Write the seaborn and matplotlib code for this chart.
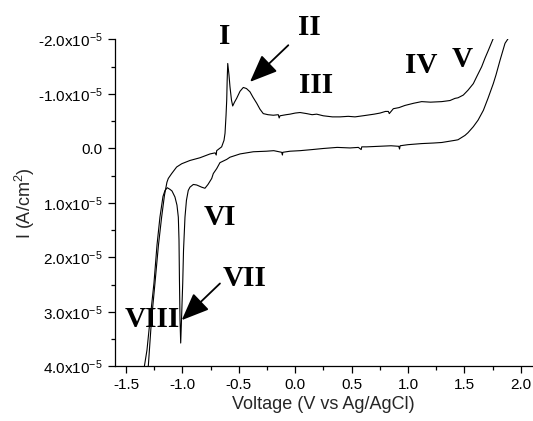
import matplotlib
matplotlib.use("Agg")
import matplotlib.pyplot as plt
import matplotlib.ticker as mticker
import seaborn as sns
import pandas as pd

# ---- data (V vs Ag/AgCl, current in units of 1e-5 A/cm^2) ----
fwd_v = [-1.349, -1.302, -1.274, -1.243, -1.212, -1.184, -1.159, -1.137, -1.125,
         -1.095, -1.051, -1.006, -0.933, -0.844, -0.755, -0.710, -0.700, -0.696,
         -0.652, -0.631, -0.622, -0.613, -0.607, -0.603, -0.598, -0.587, -0.578,
         -0.565, -0.554, -0.538, -0.519, -0.489, -0.460, -0.432, -0.401, -0.374,
         -0.341, -0.312, -0.283, -0.241, -0.194, -0.150, -0.142, -0.135, -0.080,
         -0.046, 0.000, 0.043, 0.102, 0.150, 0.190, 0.249, 0.330, 0.397, 0.470,
         0.530, 0.600, 0.634, 0.700, 0.752, 0.800, 0.826, 0.834, 0.870, 0.920,
         0.973, 1.050, 1.121, 1.200, 1.299, 1.372, 1.417, 1.443, 1.490, 1.532,
         1.579, 1.612, 1.653, 1.683, 1.712, 1.756]
fwd_i = [4.25, 3.99, 3.15, 2.47, 1.77, 1.26, 0.86, 0.62, 0.55,
         0.46, 0.34, 0.28, 0.22, 0.17, 0.10, 0.08, 0.12, 0.04,
         -0.03, -0.15, -0.28, -0.61, -0.89, -1.25, -1.56, -1.35, -1.13,
         -0.89, -0.78, -0.85, -0.92, -1.05, -1.12, -1.10, -1.04, -0.94,
         -0.83, -0.72, -0.64, -0.62, -0.61, -0.62, -0.56, -0.60, -0.62,
         -0.63, -0.65, -0.66, -0.64, -0.62, -0.63, -0.60, -0.58, -0.58, -0.59,
         -0.58, -0.60, -0.61, -0.63, -0.65, -0.68, -0.68, -0.64, -0.73, -0.75,
         -0.79, -0.83, -0.86, -0.85, -0.86, -0.88, -0.92, -0.93, -0.98, -1.07,
         -1.19, -1.33, -1.50, -1.66, -1.80, -2.02]

rev_v = [1.889, 1.860, 1.816, 1.780, 1.756, 1.709, 1.668, 1.621, 1.579, 1.532,
         1.505, 1.443, 1.417, 1.299, 1.224, 1.121, 1.000, 0.930, 0.925, 0.918,
         0.850, 0.741, 0.634, 0.590, 0.585, 0.560, 0.486, 0.372, 0.249, 0.150,
         0.043, -0.046, -0.110, -0.113, -0.120, -0.190, -0.255, -0.371, -0.489,
         -0.578, -0.607, -0.667, -0.696, -0.726, -0.740, -0.773, -0.800, -0.829,
         -0.873, -0.903, -0.933, -0.948, -0.964, -0.977, -0.990, -0.997, -1.008,
         -1.015, -1.021, -1.026, -1.030, -1.036, -1.048, -1.066, -1.092, -1.110,
         -1.134, -1.154, -1.172, -1.199, -1.225, -1.252, -1.287, -1.314, -1.338,
         -1.345]
rev_i = [-2.02, -1.93, -1.62, -1.35, -1.19, -0.92, -0.70, -0.52, -0.40, -0.29,
         -0.24, -0.16, -0.15, -0.11, -0.10, -0.09, -0.07, -0.05, 0.01, -0.04,
         -0.05, -0.04, -0.03, -0.03, 0.02, -0.02, -0.01, -0.02, 0.00, 0.02,
         0.04, 0.05, 0.07, 0.12, 0.07, 0.04, 0.05, 0.06, 0.10,
         0.16, 0.20, 0.26, 0.37, 0.46, 0.55, 0.66, 0.73, 0.71,
         0.67, 0.66, 0.71, 0.77, 0.95, 1.26, 1.87, 2.47, 3.15,
         3.57, 3.15, 2.42, 1.68, 1.26, 1.04, 0.89, 0.78, 0.75,
         0.72, 0.77, 0.88, 1.26, 1.77, 2.47, 3.15, 3.70, 4.01,
         4.25]

y_ticks = [-2.0, -1.0, 0.0, 1.0, 2.0, 3.0, 4.0]
y_tick_labels = [r"-2.0x10$^{-5}$", r"-1.0x10$^{-5}$", "0.0", r"1.0x10$^{-5}$",
                 r"2.0x10$^{-5}$", r"3.0x10$^{-5}$", r"4.0x10$^{-5}$"]
x_ticks = [-1.5, -1.0, -0.5, 0.0, 0.5, 1.0, 1.5, 2.0]

labels = ["I", "II", "III", "IV", "V", "VI", "VII", "VIII"]
label_v = [-0.622, 0.125, 0.189, 1.114, 1.483, -0.667, -0.445, -1.267]
label_i = [-1.91, -2.08, -1.01, -1.38, -1.50, 1.40, 2.52, 3.28]

arrow_tail_v = [-0.061, -0.667]
arrow_tail_i = [-1.895, 2.477]
arrow_tip_v = [-0.401, -1.006]
arrow_tip_i = [-1.222, 3.150]

# ---- plot ----
sns.set_style("ticks")
plt.rcParams["font.family"] = ["Liberation Sans", "DejaVu Sans"]
plt.rcParams["mathtext.fontset"] = "custom"
plt.rcParams["mathtext.rm"] = "Liberation Sans"
plt.rcParams["mathtext.it"] = "Liberation Sans:italic"
plt.rcParams["mathtext.bf"] = "Liberation Sans:bold"

fig = plt.figure(figsize=(5.33, 4.21), dpi=100)
ax = fig.add_axes([0.2152, 0.1295, 0.7831, 0.7767])

fwd = pd.DataFrame({"V": fwd_v, "I": fwd_i})
rev = pd.DataFrame({"V": rev_v, "I": rev_i})
sns.lineplot(data=fwd, x="V", y="I", sort=False, estimator=None, color="black",
             lw=0.8, ax=ax)
sns.lineplot(data=rev, x="V", y="I", sort=False, estimator=None, color="black",
             lw=0.8, ax=ax)

ax.set_xlim(-1.6, 2.1)
ax.set_ylim(4.0, -2.0)
ax.set_xticks(x_ticks)
ax.set_yticks(y_ticks)
ax.set_yticklabels(y_tick_labels)
ax.xaxis.set_major_formatter(mticker.FormatStrFormatter("%.1f"))
ax.xaxis.set_minor_locator(mticker.MultipleLocator(0.25))
ax.yaxis.set_minor_locator(mticker.MultipleLocator(0.5))
ax.tick_params(axis="both", which="major", length=5, width=0.9, labelsize=11,
               pad=3.5, color="black", labelcolor="black", direction="out")
ax.tick_params(axis="both", which="minor", length=2.6, width=0.9, color="black",
               direction="out")
for s in ["top", "right"]:
    ax.spines[s].set_visible(False)
for s in ["left", "bottom"]:
    ax.spines[s].set_linewidth(0.9)
    ax.spines[s].set_color("black")

ax.set_xlabel("Voltage (V vs Ag/AgCl)", fontsize=13, labelpad=3)
ax.set_ylabel(r"I (A/cm$^2$)", fontsize=13, labelpad=1)

for t, v, i in zip(labels, label_v, label_i):
    ax.text(v, i, t, fontsize=21, fontweight="bold", family="Liberation Serif",
            ha="center", va="baseline", color="black", clip_on=False)

for tv, ti, hv, hi in zip(arrow_tail_v, arrow_tail_i, arrow_tip_v, arrow_tip_i):
    ax.annotate("", xy=(hv, hi), xytext=(tv, ti),
                arrowprops=dict(arrowstyle="-|>,head_length=0.85,head_width=0.35",
                                mutation_scale=20, lw=1.3, color="black",
                                shrinkA=0, shrinkB=0))

fig.savefig("out.png", dpi=100)
